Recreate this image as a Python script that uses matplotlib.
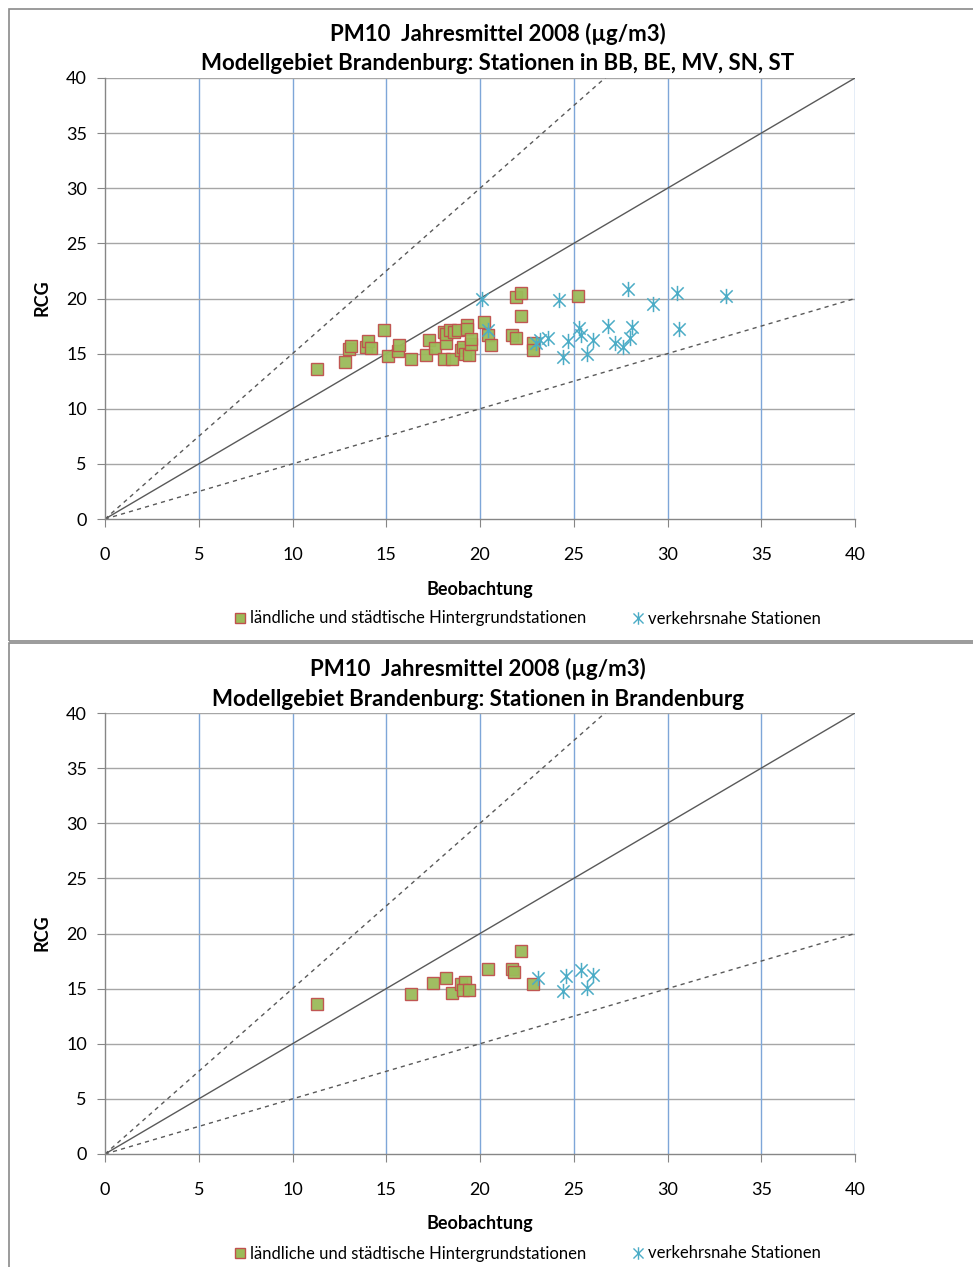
import matplotlib
matplotlib.use('Agg')
import matplotlib.pyplot as plt
from matplotlib.path import Path
from matplotlib.lines import Line2D
from matplotlib.patches import Rectangle

plt.rcParams['font.family'] = ['Lato', 'DejaVu Sans']

# --- Daten: oberes Diagramm (BB, BE, MV, SN, ST) ---
bg_all_x = [11.3, 12.8, 13.0, 13.1, 13.9, 14.0, 14.2, 14.9, 15.1, 15.6, 15.7, 16.3,
            17.1, 17.3, 17.6, 18.1, 18.5, 18.1, 18.2, 18.2, 18.4, 18.6, 18.8, 19.0,
            19.1, 19.2, 19.4, 19.3, 19.3, 19.5, 19.5, 20.2, 20.4, 20.6, 21.7, 21.9,
            21.9, 22.2, 22.2, 22.8, 22.8, 25.2]
bg_all_y = [13.6, 14.2, 15.4, 15.7, 15.6, 16.1, 15.5, 17.1, 14.8, 15.2, 15.8, 14.5,
            14.9, 16.2, 15.5, 14.5, 14.5, 17.0, 16.0, 16.8, 17.1, 17.0, 17.1, 15.3,
            15.6, 15.0, 14.9, 17.6, 17.2, 15.9, 16.3, 17.9, 16.7, 15.8, 16.7, 16.4,
            20.1, 20.5, 18.4, 16.0, 15.3, 20.2]
tr_all_x = [20.1, 20.4, 23.0, 23.2, 23.6, 24.2, 24.4, 24.7, 25.3, 25.4, 25.7, 26.0,
            26.8, 27.2, 27.6, 27.9, 28.0, 28.1, 29.2, 30.5, 30.6, 33.1]
tr_all_y = [20.0, 17.1, 16.0, 16.2, 16.4, 19.9, 14.7, 16.1, 17.3, 16.7, 15.0, 16.2,
            17.5, 16.0, 15.6, 20.9, 16.4, 17.4, 19.5, 20.5, 17.2, 20.2]

# --- Daten: unteres Diagramm (Brandenburg) ---
bg_bb_x = [11.3, 16.3, 17.5, 18.2, 18.5, 19.0, 19.2, 19.1, 19.4, 20.4, 21.7, 21.8, 22.2, 22.8]
bg_bb_y = [13.6, 14.5, 15.5, 16.0, 14.6, 15.4, 15.6, 14.9, 14.9, 16.8, 16.8, 16.5, 18.4, 15.4]
tr_bb_x = [23.1, 24.4, 24.6, 25.4, 26.0, 25.7]
tr_bb_y = [16.0, 14.8, 16.1, 16.7, 16.2, 15.1]

titles = ["PM10  Jahresmittel 2008 (µg/m3)\nModellgebiet Brandenburg: Stationen in BB, BE, MV, SN, ST",
          "PM10  Jahresmittel 2008 (µg/m3)\nModellgebiet Brandenburg: Stationen in Brandenburg"]
ticks = [0, 5, 10, 15, 20, 25, 30, 35, 40]
leg_labels = ["ländliche und städtische Hintergrundstationen", "verkehrsnahe Stationen"]
# Steigungen der Referenzlinien
slopes = [1.0, 1.5, 0.5]

GREEN = '#9bbb59'
RED = '#c0504d'
CYAN = '#4bacc6'

# Sternchen-Marker wie in Excel (drei Striche)
star = Path([(-0.5, -0.5), (0.5, 0.5), (-0.5, 0.5), (0.5, -0.5), (0, -0.62), (0, 0.62)],
            [Path.MOVETO, Path.LINETO, Path.MOVETO, Path.LINETO, Path.MOVETO, Path.LINETO])

W, H = 973, 1267
fig = plt.figure(figsize=(W / 100, H / 100), dpi=100)

def px(x0, y0, w, h):
    return [x0 / W, 1 - (y0 + h) / H, w / W, h / H]

# Rahmen der beiden Diagrammflächen
fig.add_artist(Rectangle((8.5 / W, 1 - 640.5 / H), 1.0, 632 / H, transform=fig.transFigure,
                         fill=False, ec='#8a8a8a', lw=1.2))
fig.add_artist(Rectangle((8.5 / W, -0.01), 1.0, 1 - 642.5 / H + 0.01, transform=fig.transFigure,
                         fill=False, ec='#8a8a8a', lw=1.2))

panels = [
    (78, 498, bg_all_x, bg_all_y, tr_all_x, tr_all_y),
    (713, 478, bg_bb_x, bg_bb_y, tr_bb_x, tr_bb_y),
]

for i, (top, tcx, bx, by, tx, ty) in enumerate(panels):
    ax = fig.add_axes(px(105, top, 750, 441))
    ax.set_xlim(0, 40)
    ax.set_ylim(0, 40)
    ax.set_xticks(ticks)
    ax.set_yticks(ticks)
    for s in ['top', 'right']:
        ax.spines[s].set_visible(False)
    for s in ['left', 'bottom']:
        ax.spines[s].set_color('#868686')
        ax.spines[s].set_linewidth(1.0)
    ax.tick_params(direction='out', length=6, color='#868686', labelsize=13)
    ax.tick_params(axis='x', pad=14.5)
    ax.tick_params(axis='y', pad=7)

    # Gitter: horizontal grau, vertikal blau
    for t in ticks[1:]:
        ax.axhline(t, color='#a6a6a6', lw=1.0, zorder=0.5)
        ax.axvline(t, color='#7ea6d8', lw=1.0, zorder=0.5)

    # Referenzlinien 1:1, 1.5:1, 1:2
    for k, m in enumerate(slopes):
        ls = '-' if k == 0 else (0, (3, 3))
        ax.plot([0, 40], [0, 40 * m], color='#595959', lw=1.0, ls=ls, zorder=1)

    ax.plot(bx, by, ls='none', marker='s', ms=8.5, mfc=GREEN, mec=RED, mew=1.0,
            alpha=0.95, zorder=3, clip_on=False)
    ax.plot(tx, ty, ls='none', marker=star, ms=11, mec=CYAN, mfc='none', mew=1.1,
            zorder=4, clip_on=False)

    t1, t2 = titles[i].split('\n')
    fig.text(tcx / W, 1 - (top - 44) / H, t1, ha='center', va='center', fontsize=16,
             fontweight='bold')
    fig.text(tcx / W, 1 - (top - 14) / H, t2, ha='center', va='center', fontsize=16,
             fontweight='bold')
    fig.text(42 / W, 1 - (top + 220) / H, 'RCG', rotation=90, ha='center', va='center',
             fontsize=13, fontweight='bold')
    fig.text(480 / W, 1 - (top + 511) / H, 'Beobachtung', ha='center', va='center',
             fontsize=13, fontweight='bold')

    hl1 = Line2D([], [], ls='none', marker='s', ms=7, mfc=GREEN, mec=RED, mew=1.0)
    hl2 = Line2D([], [], ls='none', marker=star, ms=9, mec=CYAN, mfc='none', mew=1.0)
    fig.legend([hl1, hl2], leg_labels, loc='center', ncol=2, frameon=False,
               bbox_to_anchor=(528 / W, 1 - (top + 540.5) / H), fontsize=12,
               handlelength=0.6, handletextpad=0.3, columnspacing=2.85, borderpad=0)

fig.savefig('out.png', dpi=100)
